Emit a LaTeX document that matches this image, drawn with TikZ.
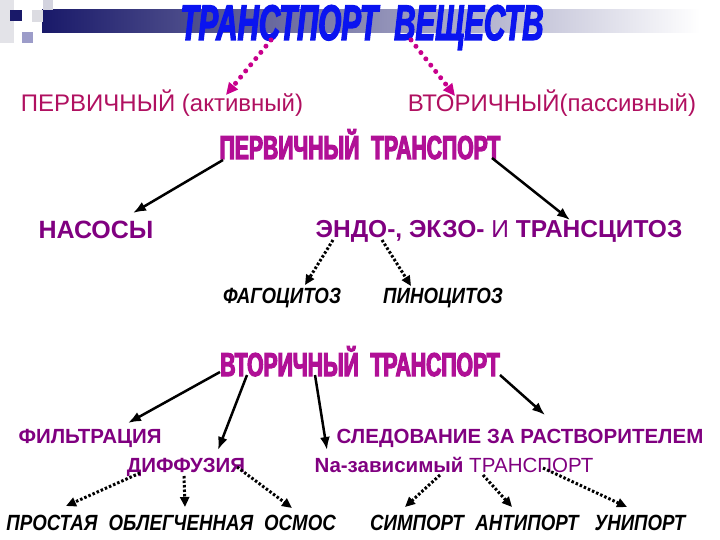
\documentclass[tikz,border=0pt]{standalone}
\usepackage{fontspec}
\setmainfont{Liberation Sans}
\newfontfamily\titlefont[FakeStretch=0.59,FakeBold=2.5]{Liberation Sans Bold Italic}
\newfontfamily\heavyfont[FakeStretch=0.64,FakeBold=3.5]{Liberation Sans Bold}
\newfontfamily\leaffont[FakeStretch=0.85]{Liberation Sans Bold Italic}
\usetikzlibrary{arrows.meta}

\definecolor{titleblue}{RGB}{10,20,240}
\definecolor{actred}{RGB}{176,16,96}
\definecolor{headmag}{RGB}{176,16,150}
\definecolor{textpurple}{RGB}{128,0,128}
\definecolor{dotmag}{RGB}{200,0,140}
\definecolor{barnavy}{RGB}{25,25,105}
\definecolor{bargrey}{RGB}{165,165,190}

\tikzset{
  lbl/.style={anchor=base, inner sep=0pt},
  head/.style={lbl, headmag, font=\heavyfont\fontsize{33bp}{37bp}\selectfont},
  item/.style={lbl, textpurple, font=\bfseries\fontsize{20.5bp}{25bp}\selectfont},
  leaf/.style={lbl, font=\leaffont\fontsize{22bp}{26bp}\selectfont},
  solidarrow/.style={line width=2.5bp, -{Latex[length=13bp,width=10bp]}},
  dotarrow/.style={line width=3bp, dash pattern=on 2.5bp off 2bp, -{Triangle[length=10bp,width=9bp]}},
  pinkarrow/.style={dotmag, line width=5bp, line cap=round, dash pattern=on 0bp off 8bp, -{Triangle[length=12bp,width=11bp]}}
}

\begin{document}
\begin{tikzpicture}[x=1bp,y=-1bp]
\useasboundingbox (0,0) rectangle (720,540);

% header bar and squares
\shade[left color=barnavy, middle color=bargrey, right color=white] (42,10) rectangle (700,33);
\fill[blue!10!gray!20] (0,0) rectangle (14,43);
\fill[blue!15!gray!30] (43,0) rectangle (53,10);
\fill[blue!10!gray!25] (32,10) rectangle (43,22);
\fill[blue!30!gray!60] (22,32) rectangle (33,43);
\fill[barnavy] (10,10) rectangle (22,21);

% title
\node[lbl, titleblue, font=\titlefont\fontsize{50bp}{58bp}\selectfont] (title) at (362,40) {ТРАНСТПОРТ~~ВЕЩЕСТВ};
\node[lbl, actred, font=\fontsize{24bp}{28bp}\selectfont] (primary) at (162,112) {ПЕРВИЧНЫЙ (активный)};
\node[lbl, actred, font=\fontsize{24bp}{28bp}\selectfont] (secondary) at (552,112) {ВТОРИЧНЫЙ(пассивный)};
\draw[pinkarrow] ([shift={(-91,0)}]title.base) -- ([shift={(64,-17)}]primary.base);
\draw[pinkarrow] ([shift={(49,0)}]title.base) -- ([shift={(-97,-16)}]secondary.base);

% primary transport
\node[head] (primhead) at (360,159) {ПЕРВИЧНЫЙ~~ТРАНСПОРТ};
\node[lbl, textpurple, font=\bfseries\fontsize{25bp}{30bp}\selectfont] (nasos) at (96,239) {НАСОСЫ};
\node[lbl, textpurple, font=\fontsize{24.5bp}{30bp}\selectfont] (endo) at (499,238) {\textbf{ЭНДО-, ЭКЗО-} И \textbf{ТРАНСЦИТОЗ}};
\node[leaf] (phago) at (282,303) {ФАГОЦИТОЗ};
\node[leaf] (pino) at (443,303) {ПИНОЦИТОЗ};
\draw[solidarrow] ([shift={(-137,1)}]primhead.base) -- ([shift={(37,-26)}]nasos.base);
\draw[solidarrow] ([shift={(132,-1)}]primhead.base) -- ([shift={(71,-18)}]endo.base);
\draw[dotarrow] ([shift={(-166,2)}]endo.base) -- ([shift={(23,-18)}]phago.base);
\draw[dotarrow] ([shift={(-117,2)}]endo.base) -- ([shift={(-32,-17)}]pino.base);

% secondary transport
\node[head] (sechead) at (360,376) {ВТОРИЧНЫЙ~~ТРАНСПОРТ};
\node[item] (filtr) at (90,443) {ФИЛЬТРАЦИЯ};
\node[item] (follow) at (520,443) {СЛЕДОВАНИЕ ЗА РАСТВОРИТЕЛЕМ};
\node[item] (diff) at (186,472) {ДИФФУЗИЯ};
\node[lbl, textpurple, font=\fontsize{20.5bp}{25bp}\selectfont] (nadep) at (454,472) {\textbf{Na-зависимый} ТРАНСПОРТ};
\draw[solidarrow] ([shift={(-140,-4)}]sechead.base) -- ([shift={(38,-20)}]filtr.base);
\draw[solidarrow] ([shift={(-113,-1)}]sechead.base) -- ([shift={(32,-22)}]diff.base);
\draw[solidarrow] ([shift={(-45,-1)}]sechead.base) -- ([shift={(-127,-22)}]nadep.base);
\draw[solidarrow] ([shift={(140,-1)}]sechead.base) -- ([shift={(25,-28)}]follow.base);

% leaves
\foreach \name/\x/\txt in {simple/52/ПРОСТАЯ, facil/181/ОБЛЕГЧЕННАЯ, osmos/300/ОСМОС,
                           sym/417/СИМПОРТ, anti/527/АНТИПОРТ, uni/640/УНИПОРТ}
  \node[leaf] (\name) at (\x,530) {\txt};

\foreach \src/\sx/\sy/\dst/\dx/\dy in {diff/-46/1/simple/14/-24, diff/-2/4/facil/4/-23, diff/51/-5/osmos/-8/-22,
                                       nadep/-14/3/sym/-12/-23, nadep/29/3/anti/-15/-23, nadep/89/-4/uni/-13/-23}
  \draw[dotarrow] ([shift={(\sx,\sy)}]\src.base) -- ([shift={(\dx,\dy)}]\dst.base);
\end{tikzpicture}
\end{document}
